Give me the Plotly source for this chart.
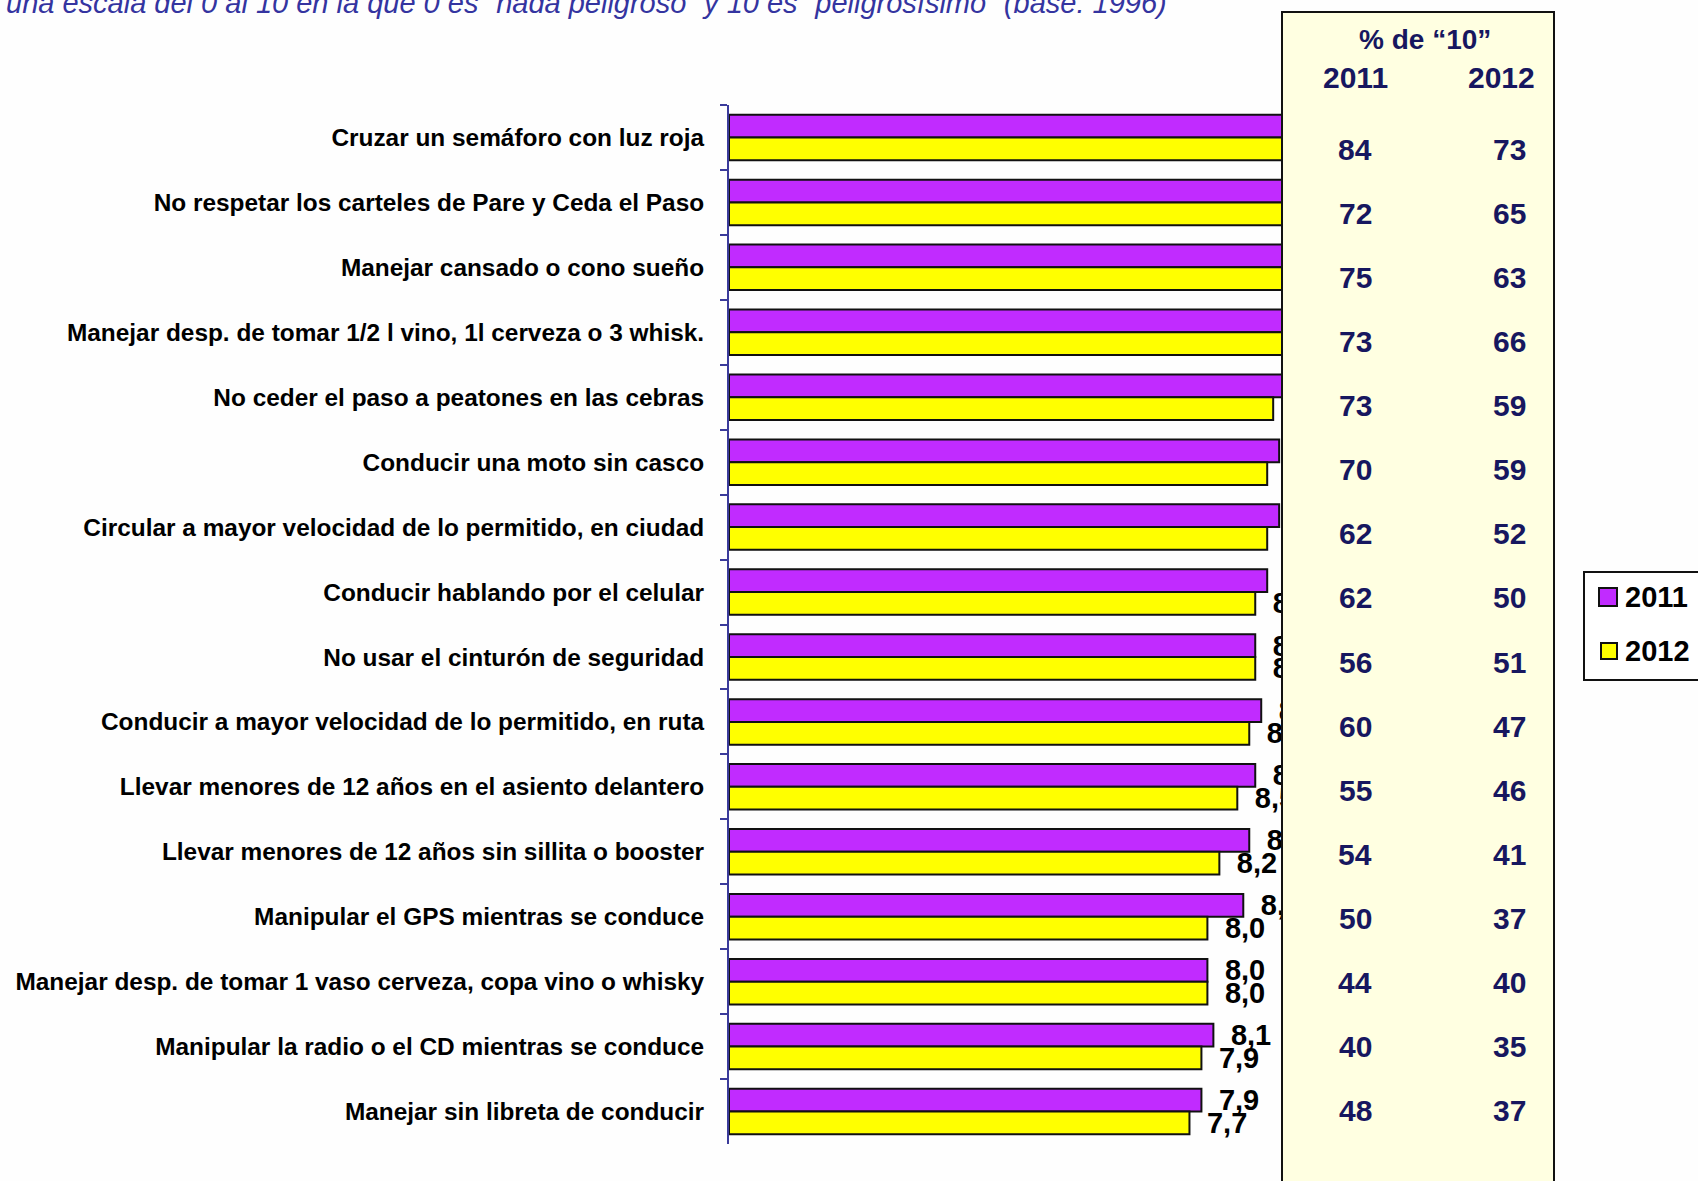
import plotly.graph_objects as go

categories = [
    "Cruzar un semáforo con luz roja",
    "No respetar los carteles de Pare y Ceda el Paso",
    "Manejar cansado o cono sueño",
    "Manejar desp. de tomar 1/2 l vino, 1l cerveza o 3 whisk.",
    "No ceder el paso a peatones en las cebras",
    "Conducir una moto sin casco",
    "Circular a mayor velocidad de lo permitido, en ciudad",
    "Conducir hablando por el celular",
    "No usar el cinturón de seguridad",
    "Conducir a mayor velocidad de lo permitido, en ruta",
    "Llevar menores de 12 años en el asiento delantero",
    "Llevar menores de 12 años sin sillita o booster",
    "Manipular el GPS mientras se conduce",
    "Manejar desp. de tomar 1 vaso cerveza, copa vino o whisky",
    "Manipular la radio o el CD mientras se conduce",
    "Manejar sin libreta de conducir",
]
score_2011 = [9.6, 9.5, 9.4, 9.5, 9.3, 9.2, 9.2, 9.0, 8.8, 8.9, 8.8, 8.7, 8.6, 8.0, 8.1, 7.9]
score_2012 = [9.5, 9.4, 9.3, 9.3, 9.1, 9.0, 9.0, 8.8, 8.8, 8.7, 8.5, 8.2, 8.0, 8.0, 7.9, 7.7]
pct10_2011 = [84, 72, 75, 73, 73, 70, 62, 62, 56, 60, 55, 54, 50, 44, 40, 48]
pct10_2012 = [73, 65, 63, 66, 59, 59, 52, 50, 51, 47, 46, 41, 37, 40, 35, 37]
series_names = ["2011", "2012"]
series_colors = ["#C12BFF", "#FFFF00"]
title_text = "una escala del 0 al 10 en la que 0 es “nada peligroso” y 10 es “peligrosísimo” (base: 1996)"
panel_title = "% de “10”"

W, H = 1698, 1181
L, R, T, B = 729, 1327, 105, 1144
pw, ph = R - L, B - T

def px(x):
    return (x - L) / pw

def py(y):
    return (B - y) / ph

SANS = "Liberation Sans, Arial"
NAVY = "#17175F"

fig = go.Figure()
for name, vals, col in zip(series_names, [score_2011, score_2012], series_colors):
    fig.add_trace(go.Bar(
        y=categories, x=vals, orientation="h", name=name,
        marker=dict(color=col, line=dict(color="#111111", width=2)),
        texttemplate="\u2002%{x:.1f}", textposition="outside", cliponaxis=False,
        constraintext="none",
        textfont=dict(family=SANS, size=29, color="black", weight="bold"),
    ))

def txt(text, x, y, size=30, color=NAVY, xanchor="center", **kw):
    return dict(text=text, xref="paper", yref="paper", x=px(x), y=py(y),
                xanchor=xanchor, yanchor="middle", showarrow=False,
                font=dict(family=SANS, size=size, color=color, weight="bold"), **kw)

annotations = [
    dict(text=title_text, xref="paper", yref="paper", x=px(4), y=py(21),
         xanchor="left", yanchor="bottom", showarrow=False,
         font=dict(family=SANS, size=29, color="#3434A0", style="italic")),
    txt(panel_title, 1425, 39, size=28),
    txt(series_names[0], 1355, 78),
    txt(series_names[1], 1501, 78),
]
n = len(categories)
for i, cat in enumerate(categories):
    shift = 1 - (n - 1 - i) * 0.87
    for val, xc in [(pct10_2011[i], 1355), (pct10_2012[i], 1509)]:
        annotations.append(dict(text=str(val), xref="paper", yref="y", x=px(xc), y=cat,
                                yshift=shift, xanchor="center", yanchor="middle", showarrow=False,
                                font=dict(family=SANS, size=30, color=NAVY, weight="bold")))

# legend (drawn manually so it can sit at the right edge like the original)
leg_rows = [(597, 1599, 1617), (651, 1601, 1617)]
for (yc, x0, x1), name in zip(leg_rows, series_names):
    annotations.append(txt(name, 1623, yc, size=29, color="black", xanchor="left"))

shapes = [dict(type="rect", xref="paper", yref="paper", x0=px(1282), x1=px(1554),
               y0=py(1200), y1=py(12), fillcolor="#FFFFE1",
               line=dict(color="#111111", width=2), layer="above"),
          dict(type="rect", xref="paper", yref="paper", x0=px(1584), x1=px(1720),
               y0=py(680), y1=py(572), fillcolor="white",
               line=dict(color="#111111", width=2), layer="above")]
for (yc, x0, x1), col in zip(leg_rows, series_colors):
    half = (x1 - x0) / 2
    shapes.append(dict(type="rect", xref="paper", yref="paper", x0=px(x0), x1=px(x1),
                       y0=py(yc + half), y1=py(yc - half), fillcolor=col,
                       line=dict(color="#111111", width=2), layer="above"))

fig.update_layout(
    width=W, height=H, barmode="group", bargap=0.3, bargroupgap=0,
    separators=",.",
    margin=dict(l=L, r=W - R, t=T, b=H - B, pad=0, autoexpand=False),
    paper_bgcolor="#FEFEFE", plot_bgcolor="rgba(0,0,0,0)",
    xaxis=dict(range=[0, 10], visible=False, fixedrange=True),
    yaxis=dict(autorange="reversed", showline=True, linecolor="#3B3B9B", linewidth=2,
               ticks="outside", ticklen=7, tickwidth=2, tickcolor="#3B3B9B",
               tickson="boundaries", ticklabelstandoff=18, showgrid=False,
               automargin=False,
               tickfont=dict(family=SANS, size=24.4, color="black", weight="bold")),
    showlegend=False,
    annotations=annotations, shapes=shapes,
)

fig.write_html("out.html", config={"displayModeBar": False},
               post_script="document.body.style.margin='0';document.body.style.overflow='hidden';")
